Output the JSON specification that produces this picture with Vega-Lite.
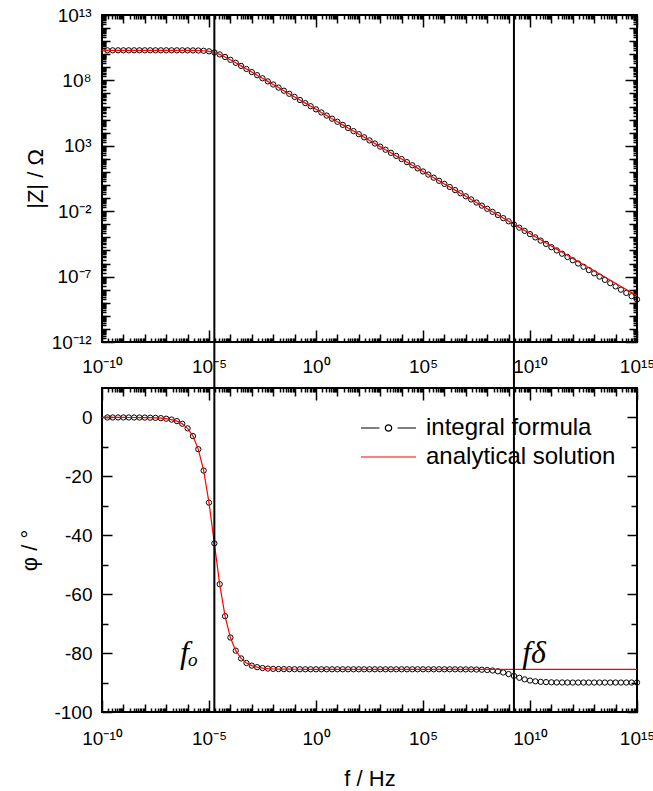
{
 "$schema": "https://vega.github.io/schema/vega-lite/v6.json",
 "padding": {"left": 17, "top": 5, "right": 0, "bottom": 0},
 "bounds": "flush",
 "spacing": 46,
 "resolve": {"legend": {"stroke": "independent"}},
 "config": {
  "font": "Liberation Sans",
  "view": {"stroke": "black", "strokeWidth": 2},
  "axis": {"domain": false, "grid": false, "tickColor": "black", "tickWidth": 1.5, "labelColor": "black", "labelFont": "Liberation Sans", "labelFontSize": 19, "titleFont": "Liberation Sans", "titleFontSize": 22, "titleFontWeight": "normal", "titleColor": "black", "labelOverlap": false, "labelFlush": false, "labelBound": false},
  "legend": {"labelLimit": 400}
 },
 "datasets": {
  "analytical": [
   {"f":1e-10,"Z":1.995e10,"phase":0},{"f":1.778e-10,"Z":1.995e10,"phase":0},{"f":3.162e-10,"Z":1.995e10,"phase":0},{"f":5.623e-10,"Z":1.995e10,"phase":0},
   {"f":1e-9,"Z":1.995e10,"phase":0},{"f":1.778e-9,"Z":1.995e10,"phase":-0.01},{"f":3.162e-9,"Z":1.995e10,"phase":-0.02},{"f":5.623e-9,"Z":1.995e10,"phase":-0.03},
   {"f":1e-8,"Z":1.995e10,"phase":-0.05},{"f":1.778e-8,"Z":1.995e10,"phase":-0.08},{"f":3.162e-8,"Z":1.995e10,"phase":-0.14},{"f":5.623e-8,"Z":1.994e10,"phase":-0.24},
   {"f":1e-7,"Z":1.994e10,"phase":-0.42},{"f":1.778e-7,"Z":1.993e10,"phase":-0.72},{"f":3.162e-7,"Z":1.991e10,"phase":-1.24},{"f":5.623e-7,"Z":1.988e10,"phase":-2.14},
   {"f":1e-6,"Z":1.981e10,"phase":-3.69},{"f":1.778e-6,"Z":1.966e10,"phase":-6.33},{"f":3.162e-6,"Z":1.93e10,"phase":-10.78},{"f":5.623e-6,"Z":1.848e10,"phase":-18.03},
   {"f":1e-5,"Z":1.671e10,"phase":-28.92},{"f":1.778e-5,"Z":1.359e10,"phase":-42.74},{"f":3.162e-5,"Z":9.672e9,"phase":-56.6},{"f":5.623e-5,"Z":6.193e9,"phase":-67.47},
   {"f":1e-4,"Z":3.743e9,"phase":-74.72},{"f":1.778e-4,"Z":2.206e9,"phase":-79.17},{"f":3.162e-4,"Z":1.287e9,"phase":-81.82},{"f":5.623e-4,"Z":7.471e8,"phase":-83.36},
   {"f":1e-3,"Z":4.333e8,"phase":-84.26},{"f":1.778e-3,"Z":2.509e8,"phase":-84.78},{"f":3.162e-3,"Z":1.454e8,"phase":-85.08},{"f":5.623e-3,"Z":8.414e7,"phase":-85.26},
   {"f":0.01,"Z":4.87e7,"phase":-85.36},{"f":0.01778,"Z":2.818e7,"phase":-85.42},{"f":0.03162,"Z":1.631e7,"phase":-85.45},{"f":0.05623,"Z":9.441e6,"phase":-85.47},
   {"f":0.1,"Z":5.464e6,"phase":-85.48},{"f":0.1778,"Z":3.162e6,"phase":-85.49},{"f":0.3162,"Z":1.83e6,"phase":-85.5},{"f":0.5623,"Z":1.059e6,"phase":-85.5},
   {"f":1,"Z":6.131e5,"phase":-85.5},{"f":1.778,"Z":3.548e5,"phase":-85.5},{"f":3.162,"Z":2.054e5,"phase":-85.5},{"f":5.623,"Z":1.189e5,"phase":-85.5},
   {"f":10,"Z":6.879e4,"phase":-85.5},{"f":17.78,"Z":3.981e4,"phase":-85.5},{"f":31.62,"Z":2.304e4,"phase":-85.5},{"f":56.23,"Z":1.334e4,"phase":-85.5},
   {"f":100,"Z":7718,"phase":-85.5},{"f":177.8,"Z":4467,"phase":-85.5},{"f":316.2,"Z":2585,"phase":-85.5},{"f":562.3,"Z":1496,"phase":-85.5},
   {"f":1000,"Z":866,"phase":-85.5},{"f":1778,"Z":501.2,"phase":-85.5},{"f":3162,"Z":290.1,"phase":-85.5},{"f":5623,"Z":167.9,"phase":-85.5},
   {"f":1e4,"Z":97.16,"phase":-85.5},{"f":1.778e4,"Z":56.23,"phase":-85.5},{"f":3.162e4,"Z":32.55,"phase":-85.5},{"f":5.623e4,"Z":18.84,"phase":-85.5},
   {"f":1e5,"Z":10.9,"phase":-85.5},{"f":1.778e5,"Z":6.31,"phase":-85.5},{"f":3.162e5,"Z":3.652,"phase":-85.5},{"f":5.623e5,"Z":2.113,"phase":-85.5},
   {"f":1e6,"Z":1.223,"phase":-85.5},{"f":1.778e6,"Z":0.7079,"phase":-85.5},{"f":3.162e6,"Z":0.4097,"phase":-85.5},{"f":5.623e6,"Z":0.2371,"phase":-85.5},
   {"f":1e7,"Z":0.1372,"phase":-85.5},{"f":1.778e7,"Z":0.07943,"phase":-85.5},{"f":3.162e7,"Z":0.04597,"phase":-85.5},{"f":5.623e7,"Z":0.02661,"phase":-85.5},
   {"f":1e8,"Z":0.0154,"phase":-85.5},{"f":1.778e8,"Z":8.913e-3,"phase":-85.5},{"f":3.162e8,"Z":5.158e-3,"phase":-85.5},{"f":5.623e8,"Z":2.985e-3,"phase":-85.5},
   {"f":1e9,"Z":1.728e-3,"phase":-85.5},{"f":1.778e9,"Z":1e-3,"phase":-85.5},{"f":3.162e9,"Z":5.788e-4,"phase":-85.5},{"f":5.623e9,"Z":3.35e-4,"phase":-85.5},
   {"f":1e10,"Z":1.939e-4,"phase":-85.5},{"f":1.778e10,"Z":1.122e-4,"phase":-85.5},{"f":3.162e10,"Z":6.494e-5,"phase":-85.5},{"f":5.623e10,"Z":3.758e-5,"phase":-85.5},
   {"f":1e11,"Z":2.175e-5,"phase":-85.5},{"f":1.778e11,"Z":1.259e-5,"phase":-85.5},{"f":3.162e11,"Z":7.286e-6,"phase":-85.5},{"f":5.623e11,"Z":4.217e-6,"phase":-85.5},
   {"f":1e12,"Z":2.44e-6,"phase":-85.5},{"f":1.778e12,"Z":1.413e-6,"phase":-85.5},{"f":3.162e12,"Z":8.175e-7,"phase":-85.5},{"f":5.623e12,"Z":4.732e-7,"phase":-85.5},
   {"f":1e13,"Z":2.738e-7,"phase":-85.5},{"f":1.778e13,"Z":1.585e-7,"phase":-85.5},{"f":3.162e13,"Z":9.173e-8,"phase":-85.5},{"f":5.623e13,"Z":5.309e-8,"phase":-85.5},
   {"f":1e14,"Z":3.073e-8,"phase":-85.5},{"f":1.778e14,"Z":1.778e-8,"phase":-85.5},{"f":3.162e14,"Z":1.029e-8,"phase":-85.5},{"f":5.623e14,"Z":5.957e-9,"phase":-85.5},
   {"f":1e15,"Z":3.447e-9,"phase":-85.5}
  ],
  "integral": [
   {"f":1.778e-10,"Z":1.995e10,"phase":0},{"f":3.162e-10,"Z":1.995e10,"phase":0},{"f":5.623e-10,"Z":1.995e10,"phase":0},
   {"f":1e-9,"Z":1.995e10,"phase":0},{"f":1.778e-9,"Z":1.995e10,"phase":-0.01},{"f":3.162e-9,"Z":1.995e10,"phase":-0.02},{"f":5.623e-9,"Z":1.995e10,"phase":-0.03},
   {"f":1e-8,"Z":1.995e10,"phase":-0.05},{"f":1.778e-8,"Z":1.995e10,"phase":-0.08},{"f":3.162e-8,"Z":1.995e10,"phase":-0.14},{"f":5.623e-8,"Z":1.994e10,"phase":-0.24},
   {"f":1e-7,"Z":1.994e10,"phase":-0.42},{"f":1.778e-7,"Z":1.993e10,"phase":-0.72},{"f":3.162e-7,"Z":1.991e10,"phase":-1.24},{"f":5.623e-7,"Z":1.988e10,"phase":-2.14},
   {"f":1e-6,"Z":1.981e10,"phase":-3.69},{"f":1.778e-6,"Z":1.966e10,"phase":-6.33},{"f":3.162e-6,"Z":1.93e10,"phase":-10.78},{"f":5.623e-6,"Z":1.848e10,"phase":-18.03},
   {"f":1e-5,"Z":1.671e10,"phase":-28.92},{"f":1.778e-5,"Z":1.359e10,"phase":-42.74},{"f":3.162e-5,"Z":9.672e9,"phase":-56.6},{"f":5.623e-5,"Z":6.193e9,"phase":-67.47},
   {"f":1e-4,"Z":3.743e9,"phase":-74.72},{"f":1.778e-4,"Z":2.206e9,"phase":-79.17},{"f":3.162e-4,"Z":1.287e9,"phase":-81.82},{"f":5.623e-4,"Z":7.471e8,"phase":-83.36},
   {"f":1e-3,"Z":4.333e8,"phase":-84.26},{"f":1.778e-3,"Z":2.509e8,"phase":-84.78},{"f":3.162e-3,"Z":1.454e8,"phase":-85.08},{"f":5.623e-3,"Z":8.414e7,"phase":-85.26},
   {"f":0.01,"Z":4.87e7,"phase":-85.36},{"f":0.01778,"Z":2.818e7,"phase":-85.42},{"f":0.03162,"Z":1.631e7,"phase":-85.45},{"f":0.05623,"Z":9.441e6,"phase":-85.47},
   {"f":0.1,"Z":5.464e6,"phase":-85.48},{"f":0.1778,"Z":3.162e6,"phase":-85.49},{"f":0.3162,"Z":1.83e6,"phase":-85.5},{"f":0.5623,"Z":1.059e6,"phase":-85.5},
   {"f":1,"Z":6.131e5,"phase":-85.5},{"f":1.778,"Z":3.548e5,"phase":-85.5},{"f":3.162,"Z":2.054e5,"phase":-85.5},{"f":5.623,"Z":1.189e5,"phase":-85.5},
   {"f":10,"Z":6.879e4,"phase":-85.5},{"f":17.78,"Z":3.981e4,"phase":-85.5},{"f":31.62,"Z":2.304e4,"phase":-85.5},{"f":56.23,"Z":1.334e4,"phase":-85.5},
   {"f":100,"Z":7718,"phase":-85.5},{"f":177.8,"Z":4467,"phase":-85.5},{"f":316.2,"Z":2585,"phase":-85.5},{"f":562.3,"Z":1496,"phase":-85.5},
   {"f":1000,"Z":866,"phase":-85.5},{"f":1778,"Z":501.2,"phase":-85.5},{"f":3162,"Z":290.1,"phase":-85.5},{"f":5623,"Z":167.9,"phase":-85.5},
   {"f":1e4,"Z":97.16,"phase":-85.5},{"f":1.778e4,"Z":56.23,"phase":-85.5},{"f":3.162e4,"Z":32.55,"phase":-85.5},{"f":5.623e4,"Z":18.84,"phase":-85.5},
   {"f":1e5,"Z":10.9,"phase":-85.5},{"f":1.778e5,"Z":6.31,"phase":-85.5},{"f":3.162e5,"Z":3.652,"phase":-85.5},{"f":5.623e5,"Z":2.113,"phase":-85.5},
   {"f":1e6,"Z":1.223,"phase":-85.5},{"f":1.778e6,"Z":0.7079,"phase":-85.5},{"f":3.162e6,"Z":0.4097,"phase":-85.51},{"f":5.623e6,"Z":0.2371,"phase":-85.51},
   {"f":1e7,"Z":0.1372,"phase":-85.53},{"f":1.778e7,"Z":0.0794,"phase":-85.54},{"f":3.162e7,"Z":0.04593,"phase":-85.58},{"f":5.623e7,"Z":0.02657,"phase":-85.64},
   {"f":1e8,"Z":0.01536,"phase":-85.74},{"f":1.778e8,"Z":8.87e-3,"phase":-85.91},{"f":3.162e8,"Z":5.116e-3,"phase":-86.18},{"f":5.623e8,"Z":2.945e-3,"phase":-86.58},
   {"f":1e9,"Z":1.69e-3,"phase":-87.12},{"f":1.778e9,"Z":9.659e-4,"phase":-87.75},{"f":3.162e9,"Z":5.499e-4,"phase":-88.38},{"f":5.623e9,"Z":3.119e-4,"phase":-88.92},
   {"f":1e10,"Z":1.763e-4,"phase":-89.32},{"f":1.778e10,"Z":9.952e-5,"phase":-89.59},{"f":3.162e10,"Z":5.608e-5,"phase":-89.76},{"f":5.623e10,"Z":3.157e-5,"phase":-89.86},
   {"f":1e11,"Z":1.776e-5,"phase":-89.92},{"f":1.778e11,"Z":9.995e-6,"phase":-89.96},{"f":3.162e11,"Z":5.622e-6,"phase":-89.97},{"f":5.623e11,"Z":3.162e-6,"phase":-89.99},
   {"f":1e12,"Z":1.778e-6,"phase":-90},{"f":1.778e12,"Z":1e-6,"phase":-90},{"f":3.162e12,"Z":5.623e-7,"phase":-90},{"f":5.623e12,"Z":3.162e-7,"phase":-90},
   {"f":1e13,"Z":1.778e-7,"phase":-90},{"f":1.778e13,"Z":1e-7,"phase":-90},{"f":3.162e13,"Z":5.623e-8,"phase":-90},{"f":5.623e13,"Z":3.162e-8,"phase":-90},
   {"f":1e14,"Z":1.778e-8,"phase":-90},{"f":1.778e14,"Z":1e-8,"phase":-90},{"f":3.162e14,"Z":5.623e-9,"phase":-90},{"f":5.623e14,"Z":3.162e-9,"phase":-90},
   {"f":1e15,"Z":1.778e-9,"phase":-90}
  ],
  "lines": [{"f":1.778e-5,"name":"f0"},{"f":1.778e9,"name":"fdelta"}],
  "notes": [{"f":4.4e-7,"phase":-83.3,"label":"fₒ"},{"f":4.3e9,"phase":-83.3,"label":"fδ"}]
 },
 "vconcat": [
  {
   "width": 535, "height": 327,
   "layer": [
    {
     "data": {"name": "integral"},
     "mark": {"type": "point", "filled": false, "stroke": "black", "strokeWidth": 1, "size": 28, "opacity": 1},
     "encoding": {
      "x": {"field": "f", "type": "quantitative", "scale": {"type": "log", "domain": [1e-10, 1e15], "nice": false},
       "axis": {"orient": "top", "labels": false, "title": null,
        "values": [1e-10,2e-10,3e-10,4e-10,5e-10,6e-10,7e-10,8e-10,9e-10,1e-9,2e-9,3e-9,4e-9,5e-9,6e-9,7e-9,8e-9,9e-9,1e-8,2e-8,3e-8,4e-8,5e-8,6e-8,7e-8,8e-8,9e-8,1e-7,2e-7,3e-7,4e-7,5e-7,6e-7,7e-7,8e-7,9e-7,1e-6,2e-6,3e-6,4e-6,5e-6,6e-6,7e-6,8e-6,9e-6,1e-5,2e-5,3e-5,4e-5,5e-5,6e-5,7e-5,8e-5,9e-5,1e-4,2e-4,3e-4,4e-4,5e-4,6e-4,7e-4,8e-4,9e-4,1e-3,2e-3,3e-3,4e-3,5e-3,6e-3,7e-3,8e-3,9e-3,1e-2,2e-2,3e-2,4e-2,5e-2,6e-2,7e-2,8e-2,9e-2,1e-1,2e-1,3e-1,4e-1,5e-1,6e-1,7e-1,8e-1,9e-1,1,2,3,4,5,6,7,8,9,1e1,2e1,3e1,4e1,5e1,6e1,7e1,8e1,9e1,1e2,2e2,3e2,4e2,5e2,6e2,7e2,8e2,9e2,1e3,2e3,3e3,4e3,5e3,6e3,7e3,8e3,9e3,1e4,2e4,3e4,4e4,5e4,6e4,7e4,8e4,9e4,1e5,2e5,3e5,4e5,5e5,6e5,7e5,8e5,9e5,1e6,2e6,3e6,4e6,5e6,6e6,7e6,8e6,9e6,1e7,2e7,3e7,4e7,5e7,6e7,7e7,8e7,9e7,1e8,2e8,3e8,4e8,5e8,6e8,7e8,8e8,9e8,1e9,2e9,3e9,4e9,5e9,6e9,7e9,8e9,9e9,1e10,2e10,3e10,4e10,5e10,6e10,7e10,8e10,9e10,1e11,2e11,3e11,4e11,5e11,6e11,7e11,8e11,9e11,1e12,2e12,3e12,4e12,5e12,6e12,7e12,8e12,9e12,1e13,2e13,3e13,4e13,5e13,6e13,7e13,8e13,9e13,1e14,2e14,3e14,4e14,5e14,6e14,7e14,8e14,9e14,1e15],
        "tickSize": {"condition": [{"test": "abs(log(datum.value)/LN10 - round(log(datum.value)/LN10)) < 0.001 && round(log(datum.value)/LN10) % 5 == 0", "value": -12}, {"test": "abs(log(datum.value)/LN10 - round(log(datum.value)/LN10)) < 0.001", "value": -8}], "value": -4}}},
      "y": {"field": "Z", "type": "quantitative", "scale": {"type": "log", "domain": [1e-12, 1e13], "nice": false},
       "axis": {"orient": "right", "labels": false, "title": null,
        "values": [1e-12,2e-12,3e-12,4e-12,5e-12,6e-12,7e-12,8e-12,9e-12,1e-11,2e-11,3e-11,4e-11,5e-11,6e-11,7e-11,8e-11,9e-11,1e-10,2e-10,3e-10,4e-10,5e-10,6e-10,7e-10,8e-10,9e-10,1e-9,2e-9,3e-9,4e-9,5e-9,6e-9,7e-9,8e-9,9e-9,1e-8,2e-8,3e-8,4e-8,5e-8,6e-8,7e-8,8e-8,9e-8,1e-7,2e-7,3e-7,4e-7,5e-7,6e-7,7e-7,8e-7,9e-7,1e-6,2e-6,3e-6,4e-6,5e-6,6e-6,7e-6,8e-6,9e-6,1e-5,2e-5,3e-5,4e-5,5e-5,6e-5,7e-5,8e-5,9e-5,1e-4,2e-4,3e-4,4e-4,5e-4,6e-4,7e-4,8e-4,9e-4,1e-3,2e-3,3e-3,4e-3,5e-3,6e-3,7e-3,8e-3,9e-3,1e-2,2e-2,3e-2,4e-2,5e-2,6e-2,7e-2,8e-2,9e-2,1e-1,2e-1,3e-1,4e-1,5e-1,6e-1,7e-1,8e-1,9e-1,1,2,3,4,5,6,7,8,9,1e1,2e1,3e1,4e1,5e1,6e1,7e1,8e1,9e1,1e2,2e2,3e2,4e2,5e2,6e2,7e2,8e2,9e2,1e3,2e3,3e3,4e3,5e3,6e3,7e3,8e3,9e3,1e4,2e4,3e4,4e4,5e4,6e4,7e4,8e4,9e4,1e5,2e5,3e5,4e5,5e5,6e5,7e5,8e5,9e5,1e6,2e6,3e6,4e6,5e6,6e6,7e6,8e6,9e6,1e7,2e7,3e7,4e7,5e7,6e7,7e7,8e7,9e7,1e8,2e8,3e8,4e8,5e8,6e8,7e8,8e8,9e8,1e9,2e9,3e9,4e9,5e9,6e9,7e9,8e9,9e9,1e10,2e10,3e10,4e10,5e10,6e10,7e10,8e10,9e10,1e11,2e11,3e11,4e11,5e11,6e11,7e11,8e11,9e11,1e12,2e12,3e12,4e12,5e12,6e12,7e12,8e12,9e12,1e13],
        "tickSize": {"condition": [{"test": "abs(log(datum.value)/LN10 - round(log(datum.value)/LN10)) < 0.001 && (round(log(datum.value)/LN10) + 100) % 5 == 3", "value": -12}, {"test": "abs(log(datum.value)/LN10 - round(log(datum.value)/LN10)) < 0.001", "value": -8}], "value": -4}}}
     }
    },
    {
     "data": {"name": "analytical"},
     "mark": {"type": "line", "color": "red", "strokeWidth": 1.2},
     "encoding": {
      "x": {"field": "f", "type": "quantitative",
       "axis": {"orient": "bottom", "title": null, "labelPadding": 27,
        "labelExpr": "datum.value == 1e-10 ? '10⁻¹⁰' : datum.value == 1e-5 ? '10⁻⁵' : datum.value == 1 ? '10⁰' : datum.value == 1e5 ? '10⁵' : datum.value == 1e10 ? '10¹⁰' : datum.value == 1e15 ? '10¹⁵' : ''",
        "values": [1e-10,2e-10,3e-10,4e-10,5e-10,6e-10,7e-10,8e-10,9e-10,1e-9,2e-9,3e-9,4e-9,5e-9,6e-9,7e-9,8e-9,9e-9,1e-8,2e-8,3e-8,4e-8,5e-8,6e-8,7e-8,8e-8,9e-8,1e-7,2e-7,3e-7,4e-7,5e-7,6e-7,7e-7,8e-7,9e-7,1e-6,2e-6,3e-6,4e-6,5e-6,6e-6,7e-6,8e-6,9e-6,1e-5,2e-5,3e-5,4e-5,5e-5,6e-5,7e-5,8e-5,9e-5,1e-4,2e-4,3e-4,4e-4,5e-4,6e-4,7e-4,8e-4,9e-4,1e-3,2e-3,3e-3,4e-3,5e-3,6e-3,7e-3,8e-3,9e-3,1e-2,2e-2,3e-2,4e-2,5e-2,6e-2,7e-2,8e-2,9e-2,1e-1,2e-1,3e-1,4e-1,5e-1,6e-1,7e-1,8e-1,9e-1,1,2,3,4,5,6,7,8,9,1e1,2e1,3e1,4e1,5e1,6e1,7e1,8e1,9e1,1e2,2e2,3e2,4e2,5e2,6e2,7e2,8e2,9e2,1e3,2e3,3e3,4e3,5e3,6e3,7e3,8e3,9e3,1e4,2e4,3e4,4e4,5e4,6e4,7e4,8e4,9e4,1e5,2e5,3e5,4e5,5e5,6e5,7e5,8e5,9e5,1e6,2e6,3e6,4e6,5e6,6e6,7e6,8e6,9e6,1e7,2e7,3e7,4e7,5e7,6e7,7e7,8e7,9e7,1e8,2e8,3e8,4e8,5e8,6e8,7e8,8e8,9e8,1e9,2e9,3e9,4e9,5e9,6e9,7e9,8e9,9e9,1e10,2e10,3e10,4e10,5e10,6e10,7e10,8e10,9e10,1e11,2e11,3e11,4e11,5e11,6e11,7e11,8e11,9e11,1e12,2e12,3e12,4e12,5e12,6e12,7e12,8e12,9e12,1e13,2e13,3e13,4e13,5e13,6e13,7e13,8e13,9e13,1e14,2e14,3e14,4e14,5e14,6e14,7e14,8e14,9e14,1e15],
        "tickSize": {"condition": [{"test": "abs(log(datum.value)/LN10 - round(log(datum.value)/LN10)) < 0.001 && round(log(datum.value)/LN10) % 5 == 0", "value": -12}, {"test": "abs(log(datum.value)/LN10 - round(log(datum.value)/LN10)) < 0.001", "value": -8}], "value": -4}}},
      "y": {"field": "Z", "type": "quantitative",
       "axis": {"orient": "left", "title": "|Z| / Ω", "titlePadding": 4, "labelPadding": 23,
        "labelExpr": "datum.value == 1e13 ? '10¹³' : datum.value == 1e8 ? '10⁸' : datum.value == 1e3 ? '10³' : datum.value == 1e-2 ? '10⁻²' : datum.value == 1e-7 ? '10⁻⁷' : datum.value == 1e-12 ? '10⁻¹²' : ''",
        "values": [1e-12,2e-12,3e-12,4e-12,5e-12,6e-12,7e-12,8e-12,9e-12,1e-11,2e-11,3e-11,4e-11,5e-11,6e-11,7e-11,8e-11,9e-11,1e-10,2e-10,3e-10,4e-10,5e-10,6e-10,7e-10,8e-10,9e-10,1e-9,2e-9,3e-9,4e-9,5e-9,6e-9,7e-9,8e-9,9e-9,1e-8,2e-8,3e-8,4e-8,5e-8,6e-8,7e-8,8e-8,9e-8,1e-7,2e-7,3e-7,4e-7,5e-7,6e-7,7e-7,8e-7,9e-7,1e-6,2e-6,3e-6,4e-6,5e-6,6e-6,7e-6,8e-6,9e-6,1e-5,2e-5,3e-5,4e-5,5e-5,6e-5,7e-5,8e-5,9e-5,1e-4,2e-4,3e-4,4e-4,5e-4,6e-4,7e-4,8e-4,9e-4,1e-3,2e-3,3e-3,4e-3,5e-3,6e-3,7e-3,8e-3,9e-3,1e-2,2e-2,3e-2,4e-2,5e-2,6e-2,7e-2,8e-2,9e-2,1e-1,2e-1,3e-1,4e-1,5e-1,6e-1,7e-1,8e-1,9e-1,1,2,3,4,5,6,7,8,9,1e1,2e1,3e1,4e1,5e1,6e1,7e1,8e1,9e1,1e2,2e2,3e2,4e2,5e2,6e2,7e2,8e2,9e2,1e3,2e3,3e3,4e3,5e3,6e3,7e3,8e3,9e3,1e4,2e4,3e4,4e4,5e4,6e4,7e4,8e4,9e4,1e5,2e5,3e5,4e5,5e5,6e5,7e5,8e5,9e5,1e6,2e6,3e6,4e6,5e6,6e6,7e6,8e6,9e6,1e7,2e7,3e7,4e7,5e7,6e7,7e7,8e7,9e7,1e8,2e8,3e8,4e8,5e8,6e8,7e8,8e8,9e8,1e9,2e9,3e9,4e9,5e9,6e9,7e9,8e9,9e9,1e10,2e10,3e10,4e10,5e10,6e10,7e10,8e10,9e10,1e11,2e11,3e11,4e11,5e11,6e11,7e11,8e11,9e11,1e12,2e12,3e12,4e12,5e12,6e12,7e12,8e12,9e12,1e13],
        "tickSize": {"condition": [{"test": "abs(log(datum.value)/LN10 - round(log(datum.value)/LN10)) < 0.001 && (round(log(datum.value)/LN10) + 100) % 5 == 3", "value": -12}, {"test": "abs(log(datum.value)/LN10 - round(log(datum.value)/LN10)) < 0.001", "value": -8}], "value": -4}}}
     }
    },
    {
     "data": {"name": "lines"},
     "mark": {"type": "rule", "color": "black", "strokeWidth": 2},
     "encoding": {
      "x": {"field": "f", "type": "quantitative", "axis": null},
      "y": {"datum": 1e13, "type": "quantitative", "axis": null},
      "y2": {"datum": 3.04e-16}
     }
    }
   ],
   "resolve": {"axis": {"x": "independent", "y": "independent"}}
  },
  {
   "width": 535, "height": 324,
   "layer": [
    {
     "data": {"name": "integral"},
     "mark": {"type": "point", "filled": false, "strokeWidth": 1, "size": 28, "opacity": 1},
     "encoding": {
      "x": {"field": "f", "type": "quantitative", "scale": {"type": "log", "domain": [1e-10, 1e15], "nice": false},
       "axis": {"orient": "top", "labels": false, "title": null,
        "values": [1e-10,2e-10,3e-10,4e-10,5e-10,6e-10,7e-10,8e-10,9e-10,1e-9,2e-9,3e-9,4e-9,5e-9,6e-9,7e-9,8e-9,9e-9,1e-8,2e-8,3e-8,4e-8,5e-8,6e-8,7e-8,8e-8,9e-8,1e-7,2e-7,3e-7,4e-7,5e-7,6e-7,7e-7,8e-7,9e-7,1e-6,2e-6,3e-6,4e-6,5e-6,6e-6,7e-6,8e-6,9e-6,1e-5,2e-5,3e-5,4e-5,5e-5,6e-5,7e-5,8e-5,9e-5,1e-4,2e-4,3e-4,4e-4,5e-4,6e-4,7e-4,8e-4,9e-4,1e-3,2e-3,3e-3,4e-3,5e-3,6e-3,7e-3,8e-3,9e-3,1e-2,2e-2,3e-2,4e-2,5e-2,6e-2,7e-2,8e-2,9e-2,1e-1,2e-1,3e-1,4e-1,5e-1,6e-1,7e-1,8e-1,9e-1,1,2,3,4,5,6,7,8,9,1e1,2e1,3e1,4e1,5e1,6e1,7e1,8e1,9e1,1e2,2e2,3e2,4e2,5e2,6e2,7e2,8e2,9e2,1e3,2e3,3e3,4e3,5e3,6e3,7e3,8e3,9e3,1e4,2e4,3e4,4e4,5e4,6e4,7e4,8e4,9e4,1e5,2e5,3e5,4e5,5e5,6e5,7e5,8e5,9e5,1e6,2e6,3e6,4e6,5e6,6e6,7e6,8e6,9e6,1e7,2e7,3e7,4e7,5e7,6e7,7e7,8e7,9e7,1e8,2e8,3e8,4e8,5e8,6e8,7e8,8e8,9e8,1e9,2e9,3e9,4e9,5e9,6e9,7e9,8e9,9e9,1e10,2e10,3e10,4e10,5e10,6e10,7e10,8e10,9e10,1e11,2e11,3e11,4e11,5e11,6e11,7e11,8e11,9e11,1e12,2e12,3e12,4e12,5e12,6e12,7e12,8e12,9e12,1e13,2e13,3e13,4e13,5e13,6e13,7e13,8e13,9e13,1e14,2e14,3e14,4e14,5e14,6e14,7e14,8e14,9e14,1e15],
        "tickSize": {"condition": [{"test": "abs(log(datum.value)/LN10 - round(log(datum.value)/LN10)) < 0.001 && round(log(datum.value)/LN10) % 5 == 0", "value": -12}, {"test": "abs(log(datum.value)/LN10 - round(log(datum.value)/LN10)) < 0.001", "value": -8}], "value": -4}}},
      "y": {"field": "phase", "type": "quantitative", "scale": {"domain": [-100, 10], "nice": false, "zero": false},
       "axis": {"orient": "right", "labels": false, "title": null, "values": [-100,-90,-80,-70,-60,-50,-40,-30,-20,-10,0],
        "tickSize": {"condition": {"test": "datum.value % 20 == 0", "value": -10}, "value": -6}}},
      "stroke": {"datum": "integral formula", "type": "nominal",
       "scale": {"domain": ["integral formula", "analytical solution"], "range": ["black", "red"]},
       "legend": {"orient": "none", "legendX": 274.5, "legendY": 28, "title": null, "padding": 0,
        "symbolType": "stroke", "symbolSize": 400, "symbolStrokeWidth": 1.2,
        "labelFont": "Liberation Sans", "labelFontSize": 24, "labelColor": "black", "labelOffset": 25.5, "rowPadding": 5, "labelLimit": 400,
        "encoding": {"symbols": {
         "shape": {"condition": {"test": "datum.value === 'integral formula'", "value": "M-2.75,0H-0.9M0.9,0H2.75M0.32,0A0.32,0.32,0,1,1,-0.32,0A0.32,0.32,0,1,1,0.32,0"}, "value": "M-2.75,0H2.75"},
         "fill": {"value": "transparent"}}}}}
     }
    },
    {
     "data": {"name": "analytical"},
     "mark": {"type": "line", "strokeWidth": 1.2},
     "encoding": {
      "x": {"field": "f", "type": "quantitative",
       "axis": {"orient": "bottom", "title": "f / Hz", "titlePadding": 12, "labelPadding": 29,
        "labelExpr": "datum.value == 1e-10 ? '10⁻¹⁰' : datum.value == 1e-5 ? '10⁻⁵' : datum.value == 1 ? '10⁰' : datum.value == 1e5 ? '10⁵' : datum.value == 1e10 ? '10¹⁰' : datum.value == 1e15 ? '10¹⁵' : ''",
        "values": [1e-10,2e-10,3e-10,4e-10,5e-10,6e-10,7e-10,8e-10,9e-10,1e-9,2e-9,3e-9,4e-9,5e-9,6e-9,7e-9,8e-9,9e-9,1e-8,2e-8,3e-8,4e-8,5e-8,6e-8,7e-8,8e-8,9e-8,1e-7,2e-7,3e-7,4e-7,5e-7,6e-7,7e-7,8e-7,9e-7,1e-6,2e-6,3e-6,4e-6,5e-6,6e-6,7e-6,8e-6,9e-6,1e-5,2e-5,3e-5,4e-5,5e-5,6e-5,7e-5,8e-5,9e-5,1e-4,2e-4,3e-4,4e-4,5e-4,6e-4,7e-4,8e-4,9e-4,1e-3,2e-3,3e-3,4e-3,5e-3,6e-3,7e-3,8e-3,9e-3,1e-2,2e-2,3e-2,4e-2,5e-2,6e-2,7e-2,8e-2,9e-2,1e-1,2e-1,3e-1,4e-1,5e-1,6e-1,7e-1,8e-1,9e-1,1,2,3,4,5,6,7,8,9,1e1,2e1,3e1,4e1,5e1,6e1,7e1,8e1,9e1,1e2,2e2,3e2,4e2,5e2,6e2,7e2,8e2,9e2,1e3,2e3,3e3,4e3,5e3,6e3,7e3,8e3,9e3,1e4,2e4,3e4,4e4,5e4,6e4,7e4,8e4,9e4,1e5,2e5,3e5,4e5,5e5,6e5,7e5,8e5,9e5,1e6,2e6,3e6,4e6,5e6,6e6,7e6,8e6,9e6,1e7,2e7,3e7,4e7,5e7,6e7,7e7,8e7,9e7,1e8,2e8,3e8,4e8,5e8,6e8,7e8,8e8,9e8,1e9,2e9,3e9,4e9,5e9,6e9,7e9,8e9,9e9,1e10,2e10,3e10,4e10,5e10,6e10,7e10,8e10,9e10,1e11,2e11,3e11,4e11,5e11,6e11,7e11,8e11,9e11,1e12,2e12,3e12,4e12,5e12,6e12,7e12,8e12,9e12,1e13,2e13,3e13,4e13,5e13,6e13,7e13,8e13,9e13,1e14,2e14,3e14,4e14,5e14,6e14,7e14,8e14,9e14,1e15],
        "tickSize": {"condition": [{"test": "abs(log(datum.value)/LN10 - round(log(datum.value)/LN10)) < 0.001 && round(log(datum.value)/LN10) % 5 == 0", "value": -12}, {"test": "abs(log(datum.value)/LN10 - round(log(datum.value)/LN10)) < 0.001", "value": -8}], "value": -4}}},
      "y": {"field": "phase", "type": "quantitative",
       "axis": {"orient": "left", "title": "φ / °", "titlePadding": 12, "labelPadding": 20, "values": [-100,-90,-80,-70,-60,-50,-40,-30,-20,-10,0],
        "labelExpr": "datum.value % 20 == 0 ? toString(datum.value) : ''",
        "tickSize": {"condition": {"test": "datum.value % 20 == 0", "value": -10}, "value": -6}}},
      "stroke": {"datum": "analytical solution", "type": "nominal"}
     }
    },
    {
     "data": {"name": "lines"},
     "mark": {"type": "rule", "color": "black", "strokeWidth": 2},
     "encoding": {"x": {"field": "f", "type": "quantitative", "axis": null}}
    },
    {
     "data": {"name": "notes"},
     "mark": {"type": "text", "font": "Liberation Serif", "fontStyle": "italic", "fontSize": 32, "align": "left", "baseline": "alphabetic", "color": "black"},
     "encoding": {
      "x": {"field": "f", "type": "quantitative", "axis": null},
      "y": {"field": "phase", "type": "quantitative", "axis": null},
      "text": {"field": "label"}
     }
    }
   ],
   "resolve": {"axis": {"x": "independent", "y": "independent"}}
  }
 ]
}
